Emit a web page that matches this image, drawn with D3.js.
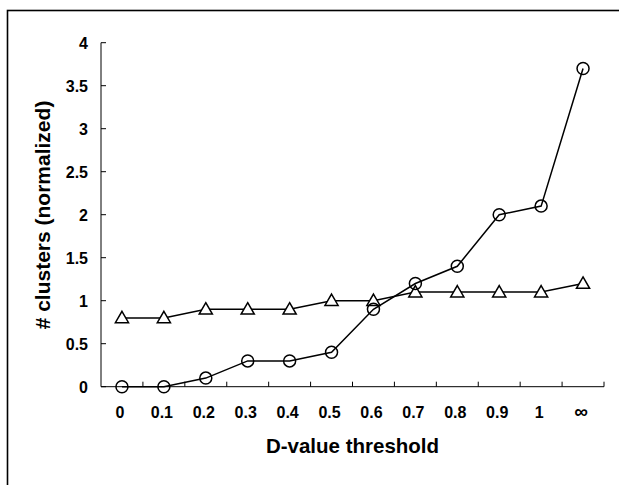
<!DOCTYPE html>
<html>
<head>
<meta charset="utf-8">
<script src="https://cdn.jsdelivr.net/npm/d3@7"></script>
<style>
  html, body { margin: 0; padding: 0; background: #fff; }
  svg { display: block; font-family: 'Liberation Sans', Arial, sans-serif; }
</style>
</head>
<body>
<svg id="chart"></svg>
<script>
const categories = ['0', '0.1', '0.2', '0.3', '0.4', '0.5', '0.6', '0.7', '0.8', '0.9', '1', '\u221e'];
const circleValues = [0, 0, 0.1, 0.3, 0.3, 0.4, 0.9, 1.2, 1.4, 2.0, 2.1, 3.7];
const triangleValues = [0.8, 0.8, 0.9, 0.9, 0.9, 1.0, 1.0, 1.1, 1.1, 1.1, 1.1, 1.2];
const yTicks = [0, 0.5, 1, 1.5, 2, 2.5, 3, 3.5, 4];

const W = 619, H = 485;
const svg = d3.select('#chart').attr('width', W).attr('height', H);

// outer frame (right & bottom edges fall outside the crop)
svg.append('rect')
	.attr('x', 7.5).attr('y', 10.5)
	.attr('width', W).attr('height', H)
	.attr('fill', 'none').attr('stroke', '#000').attr('stroke-width', 1.6);

const x = d3.scaleBand().domain(categories).range([101, 604]);
const y = d3.scaleLinear().domain([0, 4]).range([386.7, 42.7]);

const g = svg.append('g');

// y axis
g.append('line')
	.attr('x1', 101).attr('x2', 101)
	.attr('y1', y(4)).attr('y2', y(0))
	.attr('stroke', '#000').attr('stroke-width', 1);
g.selectAll('line.ytick').data(yTicks).enter().append('line')
	.attr('class', 'ytick')
	.attr('x1', 101).attr('x2', 106)
	.attr('y1', d => y(d)).attr('y2', d => y(d))
	.attr('stroke', '#000').attr('stroke-width', 1);
g.selectAll('text.ylab').data(yTicks).enter().append('text')
	.attr('class', 'ylab')
	.attr('x', 88).attr('y', d => y(d) + 5.8)
	.attr('text-anchor', 'end')
	.attr('font-size', 16).attr('font-weight', 'bold')
	.text(d => d);

// x axis
g.append('line')
	.attr('x1', 101).attr('x2', 604)
	.attr('y1', y(0)).attr('y2', y(0))
	.attr('stroke', '#000').attr('stroke-width', 1);
const bounds = categories.map(c => x(c)).concat([x.range()[1]]);
g.selectAll('line.xtick').data(bounds.slice(1)).enter().append('line')
	.attr('class', 'xtick')
	.attr('x1', d => d).attr('x2', d => d)
	.attr('y1', y(0)).attr('y2', y(0) - 5)
	.attr('stroke', '#000').attr('stroke-width', 1);
g.selectAll('text.xlab').data(categories).enter().append('text')
	.attr('class', 'xlab')
	.attr('x', d => x(d) + x.bandwidth() / 2 - 2)
	.attr('y', 417.5)
	.attr('text-anchor', 'middle')
	.attr('font-size', d => d === '\u221e' ? 19 : 16).attr('font-weight', 'bold')
	.text(d => d);

// axis titles
svg.append('text')
	.attr('x', 352.5).attr('y', 453)
	.attr('text-anchor', 'middle')
	.attr('font-size', 20.5).attr('font-weight', 'bold')
	.text('D-value threshold');
svg.append('text')
	.attr('transform', 'translate(50,215) rotate(-90)')
	.attr('text-anchor', 'middle')
	.attr('font-size', 21).attr('font-weight', 'bold')
	.text('# clusters (normalized)');

const cx = (d, i) => x(categories[i]) + x.bandwidth() / 2;
const line = d3.line().x(cx).y(d => y(d));

// triangle series
g.append('path').datum(triangleValues)
	.attr('d', line)
	.attr('fill', 'none').attr('stroke', '#000').attr('stroke-width', 1.5);
const tri = d3.symbol().type(d3.symbolTriangle).size(75);
g.selectAll('path.tri').data(triangleValues).enter().append('path')
	.attr('class', 'tri')
	.attr('d', tri)
	.attr('transform', (d, i) => `translate(${cx(d, i)},${y(d) + 1})`)
	.attr('fill', '#fff').attr('stroke', '#000').attr('stroke-width', 1.5);

// circle series
g.append('path').datum(circleValues)
	.attr('d', line)
	.attr('fill', 'none').attr('stroke', '#000').attr('stroke-width', 1.5);
g.selectAll('circle.pt').data(circleValues).enter().append('circle')
	.attr('class', 'pt')
	.attr('cx', cx).attr('cy', d => y(d))
	.attr('r', 6)
	.attr('fill', 'none').attr('stroke', '#000').attr('stroke-width', 1.5);
</script>
</body>
</html>
